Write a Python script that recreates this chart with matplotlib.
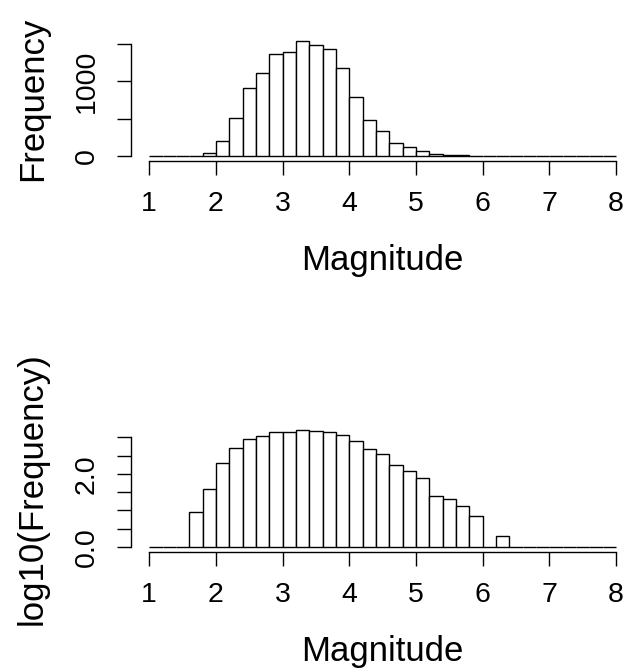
import numpy as np
import matplotlib
matplotlib.use("Agg")
import matplotlib.pyplot as plt

plt.rcParams['font.family'] = ['Liberation Sans', 'DejaVu Sans']

bin_edges = [round(1.0 + 0.2 * i, 1) for i in range(36)]
counts = [0, 0, 1, 9, 39, 204, 505, 910, 1115, 1365,
          1395, 1535, 1490, 1437, 1175, 787, 489, 339, 179, 120,
          75, 25, 21, 13, 7, 1, 2, 0, 0, 1,
          0, 0, 0, 0, 0]
x_ticks = [1, 2, 3, 4, 5, 6, 7, 8]
top_yticks = [0, 500, 1000, 1500]
top_ylabels = ['0', '', '1000', '']
bot_yticks = [0, 0.5, 1.0, 1.5, 2.0, 2.5, 3.0]
bot_ylabels = ['0.0', '', '', '', '2.0', '', '']

edges = np.array(bin_edges)
c = np.array(counts, dtype=float)
logc = np.where(c > 0, np.log10(np.where(c > 0, c, 1)), 0.0)
lefts = edges[:-1]
widths = np.diff(edges)

fig = plt.figure(figsize=(6.42, 6.69), dpi=100)
left, width = 0.2033, 0.7854
ax1 = fig.add_axes([left, 0.7595, width, 0.1855])
ax2 = fig.add_axes([left, 0.1753, width, 0.1882])

def style(ax, vals, yt, yl, ylabel, ymax):
    ax.bar(lefts, vals, width=widths, align='edge', color='white',
           edgecolor='black', linewidth=1.0)
    ax.set_xlim(0.72, 8.28)
    ax.set_ylim(-0.04 * ymax, 1.04 * ymax)
    for s in ['top', 'right']:
        ax.spines[s].set_visible(False)
    ax.spines['left'].set_bounds(yt[0], yt[-1])
    ax.spines['bottom'].set_bounds(x_ticks[0], x_ticks[-1])
    for s in ['left', 'bottom']:
        ax.spines[s].set_linewidth(1.0)
    ax.set_xticks(x_ticks)
    ax.set_xticklabels([str(v) for v in x_ticks])
    ax.set_yticks(yt)
    ax.set_yticklabels(yl, rotation=90, va='center')
    ax.tick_params(axis='both', length=10, width=1.0, labelsize=20.5, pad=12)
    ax.set_xlabel('Magnitude', fontsize=25, labelpad=19)
    ax.set_ylabel(ylabel, fontsize=25, labelpad=18)

style(ax1, c, top_yticks, top_ylabels, 'Frequency', c.max())
style(ax2, logc, bot_yticks, bot_ylabels, 'log10(Frequency)', logc.max())

fig.savefig('out.png', dpi=100)
